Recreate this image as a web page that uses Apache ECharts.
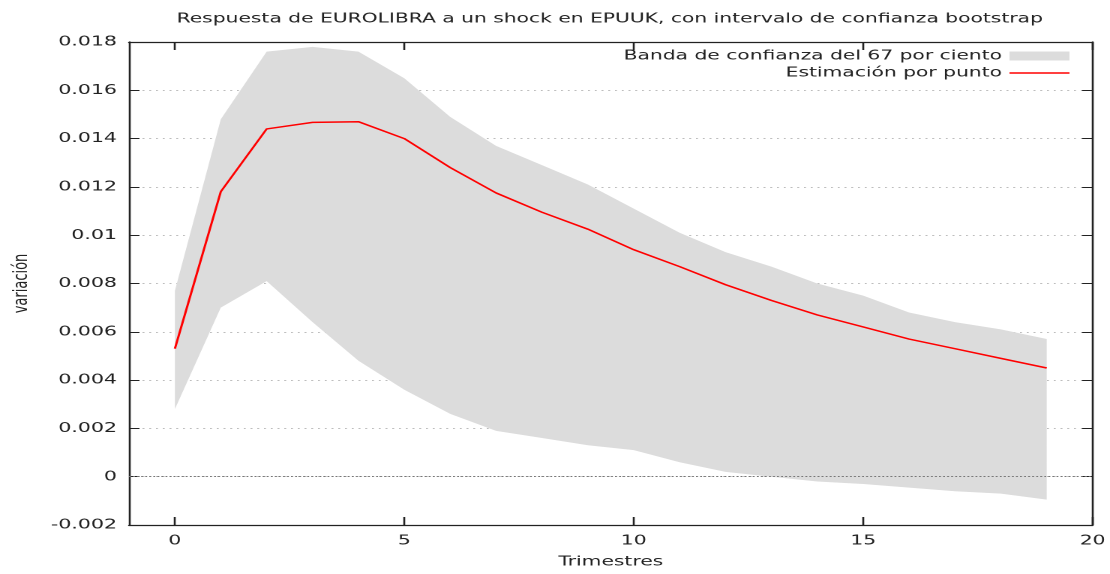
<!DOCTYPE html>
<html>
<head>
<meta charset="utf-8">
<script src="https://cdn.jsdelivr.net/npm/echarts@6/dist/echarts.min.js"></script>
<style>
  html, body { margin: 0; padding: 0; background: #fff; overflow: hidden; }
  /* the original gnuplot png was stretched sideways, so draw narrow and stretch */
  #chart { width: 740px; height: 574px; transform: scaleX(1.5); transform-origin: 0 0; }
</style>
</head>
<body>
<div id="chart"></div>
<script>
var trimestres = [0, 1, 2, 3, 4, 5, 6, 7, 8, 9, 10, 11, 12, 13, 14, 15, 16, 17, 18, 19];
var estimacion = [0.0053, 0.0118, 0.0144, 0.01467, 0.0147, 0.0140, 0.0128, 0.01175, 0.01095, 0.01025,
                  0.0094, 0.0087, 0.00795, 0.0073, 0.0067, 0.0062, 0.0057, 0.0053, 0.0049, 0.0045];
var bandaSup = [0.0077, 0.0148, 0.0176, 0.0178, 0.0176, 0.0165, 0.0149, 0.0137, 0.0129, 0.0121,
                0.0111, 0.0101, 0.0093, 0.0087, 0.0080, 0.0075, 0.0068, 0.0064, 0.0061, 0.0057];
var bandaInf = [0.0028, 0.0070, 0.0081, 0.0064, 0.0048, 0.0036, 0.0026, 0.0019, 0.0016, 0.0013,
                0.0011, 0.0006, 0.0002, 0.0000, -0.0002, -0.0003, -0.00045, -0.0006, -0.0007, -0.00095];
var xTicks = [0, 5, 10, 15, 20];

var font = 'DejaVu Sans';
var txt = '#222';
var bandName = 'Banda de confianza del 67 por ciento';
var lineName = 'Estimación por punto';

var chart = echarts.init(document.getElementById('chart'), null, { renderer: 'canvas', devicePixelRatio: 2 });

var xBase = {
    type: 'value', min: -1, max: 20,
    axisLine: { show: true, onZero: false, lineStyle: { color: '#222', width: 1.3 } },
    axisTick: { show: true, inside: true, length: 8, customValues: xTicks, lineStyle: { color: '#222', width: 1.3 } },
    splitLine: { show: false }
};
var yBase = {
    type: 'value', min: -0.002, max: 0.018, interval: 0.002,
    axisLine: { show: true, onZero: false, lineStyle: { color: '#222', width: 1.3 } },
    axisTick: { show: true, inside: true, length: 7, lineStyle: { color: '#222', width: 1 } }
};

// banda: polygon upper edge forward, lower edge back
function renderBanda(params, api) {
    var pts = [];
    for (var i = 0; i < trimestres.length; i++) {
        pts.push(api.coord([trimestres[i], bandaSup[i]]));
    }
    for (var j = trimestres.length - 1; j >= 0; j--) {
        pts.push(api.coord([trimestres[j], bandaInf[j]]));
    }
    return {
        type: 'polygon',
        shape: { points: pts },
        style: { fill: '#dcdcdc' }
    };
}

chart.setOption({
    animation: false,
    title: {
        text: 'Respuesta de EUROLIBRA a un shock en EPUUK, con intervalo de confianza bootstrap',
        left: 406.5, top: 12, padding: 0, textAlign: 'center',
        textStyle: { fontFamily: font, fontSize: 13.5, fontWeight: 'normal', color: txt }
    },
    legend: {
        orient: 'vertical', right: 27, top: 49, align: 'right',
        itemWidth: 40, itemHeight: 9, itemGap: 3, padding: 0,
        textStyle: { fontFamily: font, fontSize: 13.5, color: txt, lineHeight: 13.5 },
        data: [
            { name: bandName, icon: 'rect', itemStyle: { color: '#dcdcdc' } },
            { name: lineName, icon: 'path://M0,0H40V1.5H0Z', itemStyle: { color: '#ff0000' } }
        ]
    },
    grid: { left: 83.3, right: 10.7, top: 42, bottom: 46 },
    xAxis: [
        echarts.util.merge({
            position: 'bottom',
            name: 'Trimestres', nameLocation: 'middle', nameGap: 30,
            nameTextStyle: { fontFamily: font, fontSize: 13.5, color: txt },
            axisLabel: { customValues: xTicks, margin: 9, fontFamily: font, fontSize: 13.5, color: txt }
        }, xBase, true),
        echarts.util.merge({ position: 'top', axisLabel: { show: false } }, xBase, true)
    ],
    yAxis: [
        echarts.util.merge({
            position: 'left',
            name: 'variación', nameLocation: 'middle', nameGap: 65, nameRotate: 90,
            nameTextStyle: { fontFamily: font, fontSize: 13, color: txt },
            axisLabel: { margin: 8, fontFamily: font, fontSize: 13.7, color: txt },
            splitLine: { show: true, lineStyle: { color: '#bdbdbd', width: 1, type: [1.3, 3.2] } }
        }, yBase, true),
        echarts.util.merge({ position: 'right', axisLabel: { show: false }, splitLine: { show: false } }, yBase, true)
    ],
    series: [
        {
            name: bandName, type: 'custom', silent: true, z: 2,
            itemStyle: { color: '#dcdcdc' },
            renderItem: renderBanda,
            data: [[trimestres[0], bandaInf[0]]]
        },
        {
            name: lineName, type: 'line', symbol: 'none', showSymbol: false, silent: true, z: 5,
            itemStyle: { color: '#ff0000' },
            lineStyle: { color: '#ff0000', width: 1.5 },
            data: trimestres.map(function (t, i) { return [t, estimacion[i]]; }),
            markLine: {
                silent: true, symbol: 'none', label: { show: false },
                lineStyle: { color: '#777', width: 1, type: [1.3, 1.4] },
                data: [{ yAxis: 0 }]
            }
        }
    ]
});
</script>
</body>
</html>
